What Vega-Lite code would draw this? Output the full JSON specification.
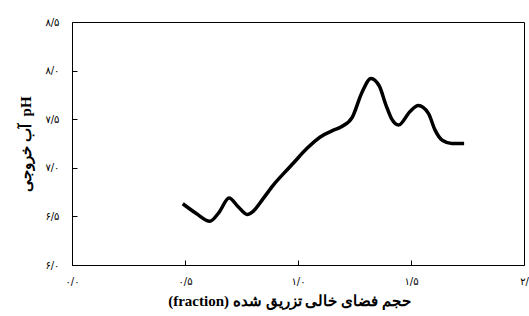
{
  "$schema": "https://vega.github.io/schema/vega-lite/v6.json",
  "width": 452,
  "height": 243,
  "autosize": "none",
  "padding": {"left": 72, "top": 22, "right": 5, "bottom": 51},
  "background": "white",
  "config": {
    "view": {"stroke": "black", "strokeWidth": 1},
    "axis": {"grid": false, "domain": false, "ticks": true, "tickColor": "black", "tickSize": 5, "labelColor": "black", "labelFont": "DejaVu Sans", "labelFontSize": 10, "titleColor": "black"}
  },
  "data": {
    "values": [
      {"x": 0.49, "y": 6.63},
      {"x": 0.55, "y": 6.53},
      {"x": 0.61, "y": 6.45},
      {"x": 0.65, "y": 6.54},
      {"x": 0.695, "y": 6.69},
      {"x": 0.735, "y": 6.60},
      {"x": 0.775, "y": 6.52},
      {"x": 0.80, "y": 6.55},
      {"x": 0.845, "y": 6.68},
      {"x": 0.89, "y": 6.82},
      {"x": 0.94, "y": 6.95},
      {"x": 0.98, "y": 7.05},
      {"x": 1.04, "y": 7.20},
      {"x": 1.10, "y": 7.32},
      {"x": 1.15, "y": 7.38},
      {"x": 1.19, "y": 7.42},
      {"x": 1.24, "y": 7.52},
      {"x": 1.282, "y": 7.77},
      {"x": 1.323, "y": 7.92},
      {"x": 1.36, "y": 7.84},
      {"x": 1.39, "y": 7.64},
      {"x": 1.415, "y": 7.50},
      {"x": 1.445, "y": 7.44},
      {"x": 1.496, "y": 7.58},
      {"x": 1.532, "y": 7.64},
      {"x": 1.577, "y": 7.56},
      {"x": 1.606, "y": 7.39},
      {"x": 1.64, "y": 7.28},
      {"x": 1.68, "y": 7.25},
      {"x": 1.735, "y": 7.25}
    ]
  },
  "mark": {"type": "line", "color": "black", "strokeWidth": 3.5, "interpolate": "monotone"},
  "encoding": {
    "x": {
      "field": "x", "type": "quantitative",
      "scale": {"domain": [0, 2], "nice": false, "zero": false},
      "axis": {
        "values": [0, 0.5, 1, 1.5, 2],
        "tickSize": -5,
        "labelPadding": 16,
        "labelFlush": false,
        "labelExpr": "datum.value == 0 ? '۰/۰' : datum.value == 0.5 ? '۰/۵' : datum.value == 1 ? '۱/۰' : datum.value == 1.5 ? '۱/۵' : '۲/'",
        "title": "(fraction) حجم فضای خالی تزریق شده",
        "titleFont": "Liberation Serif",
        "titleFontSize": 15,
        "titleFontWeight": "bold",
        "titlePadding": 7,
        "titleX": 217
      }
    },
    "y": {
      "field": "y", "type": "quantitative",
      "scale": {"domain": [6, 8.5], "nice": false, "zero": false},
      "axis": {
        "values": [6, 6.5, 7, 7.5, 8, 8.5],
        "tickSize": -5,
        "labelPadding": 18,
        "labelFlush": false,
        "labelExpr": "datum.value == 6 ? '۶/۰' : datum.value == 6.5 ? '۶/۵' : datum.value == 7 ? '۷/۰' : datum.value == 7.5 ? '۷/۵' : datum.value == 8 ? '۸/۰' : '۸/۵'",
        "title": "آب خروجی\u00a0 pH",
        "titleFont": "Liberation Serif",
        "titleFontSize": 15,
        "titleFontWeight": "bold",
        "titlePadding": 11
      }
    }
  }
}
